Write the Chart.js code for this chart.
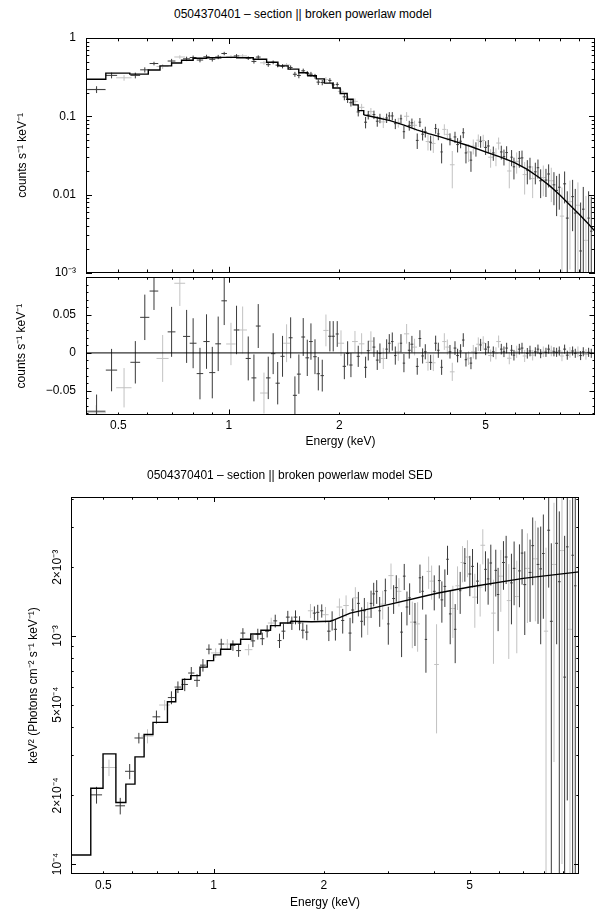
<!DOCTYPE html>
<html>
<head>
<meta charset="utf-8">
<script src="https://cdn.jsdelivr.net/npm/chart.js@4.4.1/dist/chart.umd.min.js"></script>
<style>
  body { margin: 0; background: #fff; }
  #wrap { position: relative; width: 601px; height: 913px; overflow: hidden; font-family: "Liberation Sans", Arial, sans-serif; }
  canvas { position: absolute; left: 0; }
  .ttl { position: absolute; font-size: 12px; line-height: 14px; white-space: nowrap; color: #000; }
</style>
</head>
<body>
<div id="wrap">
  <div class="ttl" style="left:174px;top:7px">0504370401 – section || broken powerlaw model</div>
  <canvas id="cTop" width="601" height="290" style="top:0"></canvas>
  <canvas id="cRes" width="601" height="200" style="top:260px"></canvas>
  <div class="ttl" style="left:147px;top:468px">0504370401 – section || broken powerlaw model SED</div>
  <canvas id="cSed" width="601" height="453" style="top:460px"></canvas>
</div>
<script>
const XMIN = 0.408, XMAX = 9.94;

// axis ticks
const xLabelTicks = [0.5, 1, 2, 5];
const xLabelText = ['0.5', '1', '2', '5'];
const xMajor = [1];
const xMinor = [0.5, 0.6, 0.7, 0.8, 0.9, 2, 3, 4, 5, 6, 7, 8, 9];

const topYTicks = [0.001, 0.01, 0.1, 1];
const topYText = ['10⁻³', '0.01', '0.1', '1'];
const topYMinor = [0.002, 0.003, 0.004, 0.005, 0.006, 0.007, 0.008, 0.009,
  0.02, 0.03, 0.04, 0.05, 0.06, 0.07, 0.08, 0.09, 0.2, 0.3, 0.4, 0.5, 0.6, 0.7, 0.8, 0.9];

const resYTicks = [-0.05, 0, 0.05];
const resYText = ['−0.05', '0', '0.05'];
const resYMajor = [-0.05, 0, 0.05, 0.1];
const resYMinor = [-0.08, -0.07, -0.06, -0.04, -0.03, -0.02, -0.01, 0.01, 0.02, 0.03, 0.04, 0.06, 0.07, 0.08, 0.09];

const sedYTicks = [1e-4, 2e-4, 5e-4, 1e-3, 2e-3];
const sedYText = ['10⁻⁴', '2×10⁻⁴', '5×10⁻⁴', '10⁻³', '2×10⁻³'];
const sedYMajor = [1e-4, 1e-3];
const sedYMinor = [2e-4, 3e-4, 4e-4, 5e-4, 6e-4, 7e-4, 8e-4, 9e-4, 2e-3, 3e-3, 4e-3];

// folded model (counts s-1 keV-1)
const cntStepE = [0.408, 0.462, 0.537, 0.603, 0.649, 0.698, 0.743, 0.799, 0.869, 0.95, 1.05, 1.165,
  1.267, 1.36, 1.45, 1.55, 1.64, 1.73, 1.82, 1.92, 2.01, 2.1, 2.18, 2.25, 2.33];
const cntStepV = [0.297, 0.356, 0.345, 0.39, 0.44, 0.48, 0.52, 0.55, 0.56, 0.565, 0.56, 0.535,
  0.49, 0.44, 0.40, 0.36, 0.33, 0.30, 0.265, 0.23, 0.195, 0.165, 0.14, 0.118, 0.104];
const cntE = [2.33, 2.5, 2.75, 3.0, 3.25, 3.5, 3.75, 4.0, 4.5, 5.0, 5.5, 6.0, 6.5, 7.0, 7.5, 8.0, 8.5, 9.0, 9.5, 9.94];
const cntV = [0.104, 0.097, 0.088, 0.077, 0.067, 0.060, 0.055, 0.050, 0.042, 0.035, 0.030, 0.0255,
  0.021, 0.0165, 0.0128, 0.0097, 0.0073, 0.0056, 0.0043, 0.0034];

// unfolded model (keV2 photons cm-2 s-1 keV-1)
const sedStepE = [0.408, 0.462, 0.499, 0.541, 0.576, 0.61, 0.646, 0.683, 0.748, 0.788, 0.822, 0.866,
  0.918, 0.961, 1.0, 1.045, 1.113, 1.185, 1.263, 1.346, 1.43, 1.52, 1.62];
const sedStepV = [1.095e-4, 2.15e-4, 3.04e-4, 1.86e-4, 2.24e-4, 2.95e-4, 3.70e-4, 4.18e-4, 5.15e-4,
  5.83e-4, 6.45e-4, 6.7e-4, 7.3e-4, 7.8e-4, 8.26e-4, 8.75e-4, 9.2e-4, 9.67e-4, 1.02e-3, 1.06e-3,
  1.11e-3, 1.14e-3, 1.16e-3];
const sedE = [1.62, 1.85, 2.085, 2.36, 3.04, 4.07, 5.0, 7.0, 9.94];
const sedV = [1.16e-3, 1.155e-3, 1.16e-3, 1.26e-3, 1.38e-3, 1.54e-3, 1.64e-3, 1.79e-3, 1.91e-3];

// first instrument (dark)
const darkE = [0.436, 0.479, 0.556, 0.590, 0.625, 0.698, 0.767, 0.799, 0.834, 0.869,
  0.901, 0.935, 0.971, 1.049, 1.129, 1.17, 1.202, 1.28, 1.32, 1.358,
  1.40, 1.473, 1.513, 1.551, 1.594, 1.635, 1.673, 1.716, 1.752, 1.796,
  1.884, 1.924, 1.973, 2.063, 2.106, 2.15, 2.251, 2.357, 2.397, 2.484,
  2.536, 2.579, 2.69, 2.735, 2.787, 2.84, 2.943, 2.998, 3.1, 3.152,
  3.259, 3.314, 3.371, 3.428, 3.545, 3.658, 3.72, 3.798, 4.002, 4.13,
  4.198, 4.278, 4.35, 4.424, 4.565, 4.71, 4.85, 5.005, 5.09, 5.252,
  5.522, 5.615, 5.71, 5.891, 5.978, 6.183, 6.288, 6.501, 6.611, 6.836,
  6.95, 7.068, 7.308, 7.431, 7.683, 7.813, 7.945, 8.215, 8.353, 8.637,
  8.783, 9.082, 9.235, 9.55, 9.71];
const darkHalf = [0.025, 0.017, 0.017, 0.017, 0.017, 0.017, 0.017, 0.017, 0.017, 0.017,
  0.017, 0.017, 0.017, 0.018, 0.018, 0.018, 0.018, 0.018, 0.018, 0.018,
  0.018, 0.018, 0.019, 0.019, 0.019, 0.019, 0.019, 0.019, 0.019, 0.019,
  0.019, 0.019, 0.019, 0.022, 0.022, 0.022, 0.022, 0.022, 0.022, 0.022,
  0.022, 0.022, 0.022, 0.022, 0.022, 0.022, 0.022, 0.022, 0.028, 0.028,
  0.028, 0.028, 0.028, 0.028, 0.028, 0.028, 0.028, 0.028, 0.035, 0.035,
  0.035, 0.035, 0.035, 0.035, 0.035, 0.035, 0.035, 0.045, 0.045, 0.045,
  0.045, 0.045, 0.045, 0.045, 0.045, 0.055, 0.055, 0.055, 0.055, 0.055,
  0.055, 0.065, 0.065, 0.065, 0.065, 0.065, 0.065, 0.075, 0.075, 0.075,
  0.075, 0.075, 0.075, 0.075, 0.075];
const darkRate = [0.220, 0.333, 0.333, 0.392, 0.472, 0.508, 0.542, 0.563, 0.523, 0.575,
  0.534, 0.572, 0.634, 0.590, 0.553, 0.502, 0.571, 0.457, 0.489, 0.450,
  0.436, 0.420, 0.344, 0.332, 0.381, 0.354, 0.345, 0.325, 0.273, 0.270,
  0.287, 0.252, 0.255, 0.177, 0.164, 0.149, 0.1135, 0.084, 0.104, 0.105,
  0.0865, 0.0945, 0.095, 0.101, 0.101, 0.0805, 0.0928, 0.0635, 0.0765, 0.0825,
  0.0492, 0.084, 0.059, 0.0635, 0.0465, 0.0698, 0.0595, 0.035, 0.0515, 0.0544,
  0.0435, 0.048, 0.0615, 0.034, 0.0275, 0.0385, 0.0475, 0.040, 0.0417, 0.034,
  0.035, 0.0305, 0.0344, 0.030, 0.0226, 0.029, 0.0294, 0.0205, 0.0225, 0.0195,
  0.022, 0.015, 0.0153, 0.0183, 0.0133, 0.0113, 0.0124, 0.0137, 0.005, 0.0094,
  0.0058, 0.0019, 0.0065, 0.005, 0.0034];
const darkErr = [0.022, 0.028, 0.028, 0.030, 0.025, 0.033, 0.035, 0.033, 0.034, 0.036,
  0.034, 0.036, 0.032, 0.032, 0.029, 0.031, 0.029, 0.028, 0.027, 0.028,
  0.027, 0.027, 0.025, 0.026, 0.025, 0.024, 0.024, 0.023, 0.022, 0.021,
  0.020, 0.020, 0.017, 0.017, 0.016, 0.016, 0.014, 0.014, 0.013, 0.013,
  0.013, 0.013, 0.013, 0.012, 0.012, 0.012, 0.012, 0.012, 0.011, 0.011,
  0.011, 0.011, 0.010, 0.010, 0.010, 0.010, 0.010, 0.010, 0.009, 0.009,
  0.009, 0.009, 0.009, 0.009, 0.008, 0.008, 0.008, 0.008, 0.008, 0.007,
  0.007, 0.007, 0.007, 0.007, 0.007, 0.007, 0.007, 0.007, 0.007, 0.006,
  0.006, 0.006, 0.006, 0.006, 0.006, 0.006, 0.006, 0.006, 0.006, 0.006,
  0.006, 0.006, 0.006, 0.006, 0.006];
const darkRes = [-0.077, -0.0227, -0.0124, 0.047, 0.0817, 0.0278, 0.0218, 0.0128, -0.0273, 0.015,
  -0.026, 0.012, 0.0688, 0.0303, -0.0073, -0.033, 0.0355, -0.033, -0.001, -0.040,
  -0.0045, 0.020, -0.056, -0.028, 0.021, -0.0065, 0.015, -0.005, -0.0275, -0.030,
  0.022, 0.022, 0.025, -0.0177, -0.0006, -0.016, -0.0045, -0.019, 0.003, 0.0077,
  -0.0095, -0.0005, 0.005, 0.0128, 0.015, -0.0035, 0.0128, -0.0135, 0.0035, 0.0115,
  -0.0178, 0.019, -0.004, 0.0015, -0.0125, 0.0128, 0.0035, -0.019, 0.0015, 0.0064,
  -0.0035, 0.0025, 0.017, -0.009, -0.0135, -0.0005, 0.0105, 0.005, 0.0077, 0.0015,
  0.005, 0.0015, 0.0064, 0.0035, -0.003, 0.005, 0.0064, -0.0005, 0.0025, 0.0015,
  0.005, -0.001, 0.0008, 0.005, 0.0015, 0.0008, 0.0025, 0.005, -0.003, 0.0025,
  -0.0005, -0.0035, 0.0015, 0.0008, -0.0005];
const darkSed = [0.81e-4, 2.01e-4, 1.80e-4, 2.55e-4, 3.57e-4, 4.42e-4, 5.37e-4, 5.97e-4, 6.13e-4, 6.88e-4,
  6.39e-4, 7.45e-4, 8.75e-4, 9.22e-4, 9.09e-4, 8.63e-4, 10.3e-4, 9.52e-4, 10.2e-4, 9.73e-4,
  10.5e-4, 11.65e-4, 9.55e-4, 10.5e-4, 12.1e-4, 11.4e-4, 12.1e-4, 11.4e-4, 10.6e-4, 10.4e-4,
  12.6e-4, 12.7e-4, 12.9e-4, 10.5e-4, 11.7e-4, 10.7e-4, 11.7e-4, 10.3e-4, 13.0e-4, 13.9e-4,
  11.6e-4, 12.9e-4, 13.9e-4, 15.3e-4, 15.7e-4, 12.9e-4, 15.8e-4, 11.3e-4, 14.6e-4, 16.3e-4,
  10.4e-4, 18.3e-4, 13.4e-4, 14.7e-4, 11.5e-4, 18.0e-4, 15.7e-4, 9.66e-4, 15.7e-4, 17.5e-4,
  14.4e-4, 16.5e-4, 21.7e-4, 12.5e-4, 10.7e-4, 15.8e-4, 20.8e-4, 18.7e-4, 20.2e-4, 17.4e-4,
  19.6e-4, 17.8e-4, 20.9e-4, 19.4e-4, 15.2e-4, 21.0e-4, 22.2e-4, 17.1e-4, 19.8e-4, 19.3e-4,
  23.1e-4, 16.8e-4, 19.0e-4, 24.9e-4, 20.6e-4, 19.7e-4, 23.0e-4, 29.1e-4, 11.6e-4, 25.5e-4,
  17.3e-4, 6.6e-4, 24.6e-4, 22.6e-4, 16.6e-4];
const darkSedErr = [0.08e-4, 0.17e-4, 0.15e-4, 0.195e-4, 0.19e-4, 0.29e-4, 0.35e-4, 0.35e-4, 0.40e-4, 0.43e-4,
  0.41e-4, 0.47e-4, 0.44e-4, 0.50e-4, 0.48e-4, 0.53e-4, 0.52e-4, 0.58e-4, 0.56e-4, 0.61e-4,
  0.65e-4, 0.75e-4, 0.69e-4, 0.82e-4, 0.79e-4, 0.77e-4, 0.85e-4, 0.81e-4, 0.85e-4, 0.81e-4,
  0.88e-4, 1.0e-4, 0.86e-4, 1.0e-4, 1.13e-4, 1.15e-4, 1.45e-4, 1.71e-4, 1.63e-4, 1.71e-4,
  1.75e-4, 1.78e-4, 1.9e-4, 1.81e-4, 1.87e-4, 1.93e-4, 2.05e-4, 2.14e-4, 2.1e-4, 2.17e-4,
  2.32e-4, 2.4e-4, 2.27e-4, 2.32e-4, 2.46e-4, 2.57e-4, 2.65e-4, 2.76e-4, 2.75e-4, 2.9e-4,
  2.96e-4, 3.09e-4, 3.17e-4, 3.3e-4, 3.1e-4, 3.3e-4, 3.5e-4, 3.75e-4, 3.87e-4, 3.57e-4,
  3.92e-4, 4.08e-4, 4.25e-4, 4.5e-4, 4.7e-4, 5.06e-4, 5.3e-4, 5.85e-4, 6.16e-4, 5.93e-4,
  6.3e-4, 6.7e-4, 7.47e-4, 8.2e-4, 9.3e-4, 10.5e-4, 11.1e-4, 12.8e-4, 13.9e-4, 16.3e-4,
  17.9e-4, 20.9e-4, 22.7e-4, 27e-4, 29e-4];

// second instrument (light)
const grayE = [0.435, 0.518, 0.660, 0.735, 1.013, 1.09, 1.246, 1.436, 1.838, 2.02,
  2.205, 2.299, 2.437, 2.634, 2.894, 3.049, 3.205, 3.486, 3.605, 3.863,
  3.936, 4.06, 4.498, 4.632, 4.78, 4.93, 5.164, 5.34, 5.43, 5.806,
  6.08, 6.393, 6.723, 7.187, 7.556, 8.079, 8.494, 8.931, 9.391];
const grayHalf = [0.027, 0.025, 0.025, 0.025, 0.03, 0.03, 0.03, 0.03, 0.03, 0.04,
  0.04, 0.04, 0.04, 0.04, 0.04, 0.05, 0.05, 0.05, 0.05, 0.05,
  0.05, 0.06, 0.06, 0.06, 0.06, 0.06, 0.08, 0.08, 0.08, 0.08,
  0.08, 0.08, 0.08, 0.11, 0.11, 0.11, 0.11, 0.11, 0.11];
const grayRate = [0.218, 0.310, 0.433, 0.572, 0.577, 0.590, 0.482, 0.453, 0.295, 0.208,
  0.155, 0.130, 0.1145, 0.0847, 0.0835, 0.100, 0.0767, 0.0475, 0.045, 0.068,
  0.0587, 0.024, 0.035, 0.0415, 0.0495, 0.049, 0.030, 0.031, 0.0455, 0.020,
  0.0265, 0.018, 0.016, 0.0165, 0.015, 0.0053, 0.0081, 0.0073, 0.0026];
const grayErr = [0.010, 0.026, 0.031, 0.030, 0.028, 0.031, 0.027, 0.025, 0.021, 0.017,
  0.014, 0.014, 0.013, 0.014, 0.012, 0.013, 0.011, 0.011, 0.011, 0.011,
  0.010, 0.012, 0.009, 0.009, 0.009, 0.009, 0.008, 0.008, 0.008, 0.008,
  0.008, 0.008, 0.007, 0.007, 0.007, 0.007, 0.007, 0.007, 0.007];
const grayRes = [-0.079, -0.046, -0.0073, 0.092, 0.0118, 0.0303, -0.053, 0.0128, 0.0297, 0.0128,
  0.015, 0.012, 0.0155, -0.0073, 0.0015, 0.0252, 0.0077, -0.0125, -0.013, 0.015,
  0.0077, -0.025, -0.007, 0.0015, 0.0115, 0.013, -0.0035, -0.0005, 0.015, -0.007,
  0.0015, -0.004, -0.003, 0.0015, 0.0025, -0.004, 0.0008, 0.0015, -0.002];
const graySed = [0.80e-4, 2.65e-4, 3.64e-4, 4.98e-4, 8.43e-4, 9.22e-4, 8.71e-4, 11.4e-4, 12.9e-4, 12.4e-4,
  13.4e-4, 13.6e-4, 14.7e-4, 12.1e-4, 13.8e-4, 18.4e-4, 15.7e-4, 11.5e-4, 11.3e-4, 19.2e-4,
  17.4e-4, 7.5e-4, 13.2e-4, 16.6e-4, 21.0e-4, 22.2e-4, 14.8e-4, 16.4e-4, 25.0e-4, 12.6e-4,
  18.3e-4, 14.3e-4, 14.9e-4, 19.8e-4, 21.8e-4, 10.5e-4, 20.6e-4, 23.7e-4, 10.7e-4];
const graySedErr = [0.04e-4, 0.22e-4, 0.26e-4, 0.26e-4, 0.41e-4, 0.48e-4, 0.49e-4, 0.63e-4, 0.92e-4, 1.01e-4,
  1.21e-4, 1.47e-4, 1.67e-4, 1.99e-4, 1.99e-4, 2.39e-4, 2.24e-4, 2.66e-4, 2.77e-4, 3.11e-4,
  2.97e-4, 3.76e-4, 3.4e-4, 3.6e-4, 3.8e-4, 4.1e-4, 3.94e-4, 4.23e-4, 4.39e-4, 5.05e-4,
  5.54e-4, 6.37e-4, 6.5e-4, 8.4e-4, 10.2e-4, 13.9e-4, 17.8e-4, 22.7e-4, 28.8e-4];

const DARK = '#3a3a3a', LIGHT = '#c2c2c2';
const FONT = '"Liberation Sans", Arial, sans-serif';
Chart.defaults.font.family = FONT;
Chart.defaults.font.size = 12;
Chart.defaults.color = '#000';
Chart.defaults.animation = false;

function pts(e, v) { return e.map((x, i) => ({x, y: v[i]})); }

// each data bin becomes one horizontal and one vertical segment, separated by gaps
function crosses(e, half, val, err, floor) {
  const h = [], v = [];
  for (let i = 0; i < e.length; i++) {
    h.push({x: e[i] - half[i], y: val[i]}, {x: e[i] + half[i], y: val[i]}, {x: e[i], y: null});
    v.push({x: e[i], y: Math.max(val[i] - err[i], floor)}, {x: e[i], y: val[i] + err[i]}, {x: e[i], y: null});
  }
  return [h, v];
}
function seg(data, color, width = 1) {
  return {data, borderColor: color, borderWidth: width, pointRadius: 0, showLine: true, spanGaps: false, fill: false};
}

const frame = {
  id: 'frame',
  afterDraw(chart, args, o) {
    const {ctx, chartArea: a} = chart;
    const xs = chart.scales.x, ys = chart.scales.y;
    ctx.save();
    ctx.strokeStyle = '#000';
    ctx.lineWidth = 1;
    ctx.beginPath();
    const mark = (vals, len, horiz) => vals.forEach(v => {
      if (horiz) {
        const p = Math.round(xs.getPixelForValue(v)) + 0.5;
        if (p < a.left || p > a.right) return;
        ctx.moveTo(p, a.bottom); ctx.lineTo(p, a.bottom - len);
        ctx.moveTo(p, a.top); ctx.lineTo(p, a.top + len);
      } else {
        const p = Math.round(ys.getPixelForValue(v)) + 0.5;
        if (p < a.top - 1 || p > a.bottom + 1) return;
        ctx.moveTo(a.left, p); ctx.lineTo(a.left + len, p);
        ctx.moveTo(a.right, p); ctx.lineTo(a.right - len, p);
      }
    });
    mark(o.xMajor, o.major, true);
    mark(o.xMinor, o.minor, true);
    mark(o.yMajor, o.major, false);
    mark(o.yMinor, o.minor, false);
    ctx.stroke();
    ctx.strokeRect(Math.round(a.left) + 0.5, Math.round(a.top) + 0.5,
      Math.round(a.right - a.left) - 1, Math.round(a.bottom - a.top) - 1);
    if (o.rot) {
      ctx.fillStyle = '#000';
      ctx.font = '12px ' + FONT;
      ctx.textAlign = 'center';
      ctx.textBaseline = 'middle';
      o.rot.values.forEach((v, i) => {
        ctx.save();
        ctx.translate(o.rot.x, ys.getPixelForValue(v));
        ctx.rotate(-Math.PI / 2);
        ctx.fillText(o.rot.text[i], 0, 0);
        ctx.restore();
      });
    }
    ctx.restore();
  }
};

function xAxis(show, height, pad, titlePad) {
  return {
    type: 'logarithmic', min: XMIN, max: XMAX, bounds: 'data',
    grid: {display: false, drawTicks: false}, border: {display: false},
    afterBuildTicks: s => { s.ticks = xLabelTicks.map(v => ({value: v})); },
    afterFit: s => { s.height = height; },
    ticks: {display: show, autoSkip: false, maxRotation: 0, padding: pad, callback: (v, i) => xLabelText[i]},
    title: {display: show, text: 'Energy (keV)', padding: {top: 0, bottom: titlePad}}
  };
}
function yAxis(type, min, max, ticks, text, width, pad, title, titlePad, showTicks = true) {
  return {
    type, min, max, bounds: 'data',
    grid: {display: false, drawTicks: false}, border: {display: false},
    afterBuildTicks: s => { s.ticks = ticks.map(v => ({value: v})); },
    afterFit: s => { s.width = width; },
    ticks: {display: showTicks, autoSkip: false, padding: pad, callback: (v, i) => text[i]},
    title: {display: true, text: title, padding: {top: titlePad, bottom: 0}}
  };
}
const basePlugins = {legend: {display: false}, tooltip: {enabled: false}};

// counts spectrum
const [dTopH, dTopV] = crosses(darkE, darkHalf, darkRate, darkErr, 1e-5);
const [gTopH, gTopV] = crosses(grayE, grayHalf, grayRate, grayErr, 1e-5);
new Chart(document.getElementById('cTop'), {
  type: 'scatter',
  data: {datasets: [
    {...seg(pts(cntStepE, cntStepV), '#000', 1.4), stepped: 'before'},
    seg(pts(cntE, cntV), '#000', 1.4),
    seg(dTopH, DARK), seg(dTopV, DARK),
    seg(gTopH, LIGHT), seg(gTopV, LIGHT)
  ]},
  options: {
    responsive: false, events: [],
    layout: {padding: {top: 38, right: 6, bottom: 17, left: 0}},
    scales: {
      x: xAxis(false, 0, 0, 0),
      y: yAxis('logarithmic', 1e-3, 1, topYTicks, topYText, 86, 10, 'counts s⁻¹ keV⁻¹', 15)
    },
    plugins: {...basePlugins, frame: {xMajor, xMinor, yMajor: topYTicks, yMinor: topYMinor, major: 6, minor: 3.3}}
  },
  plugins: [frame]
});

// residuals
const [dResH, dResV] = crosses(darkE, darkHalf, darkRes, darkErr, -1);
const [gResH, gResV] = crosses(grayE, grayHalf, grayRes, grayErr, -1);
new Chart(document.getElementById('cRes'), {
  type: 'scatter',
  data: {datasets: [
    seg([{x: XMIN, y: 0}, {x: XMAX, y: 0}], '#000', 1),
    seg(dResH, DARK), seg(dResV, DARK),
    seg(gResH, LIGHT), seg(gResV, LIGHT)
  ]},
  options: {
    responsive: false, events: [],
    layout: {padding: {top: 13, right: 6, bottom: 0, left: 0}},
    scales: {
      x: xAxis(true, 45, 3, 11),
      y: yAxis('linear', -0.082, 0.1, resYTicks, resYText, 86, 10, 'counts s⁻¹ keV⁻¹', 14)
    },
    plugins: {...basePlugins, frame: {xMajor, xMinor, yMajor: resYMajor, yMinor: resYMinor, major: 5.5, minor: 2.5}}
  },
  plugins: [frame]
});

// unfolded spectrum
const [dSedH, dSedV] = crosses(darkE, darkHalf, darkSed, darkSedErr, 1e-6);
const [gSedH, gSedV] = crosses(grayE, grayHalf, graySed, graySedErr, 1e-6);
new Chart(document.getElementById('cSed'), {
  type: 'scatter',
  data: {datasets: [
    {...seg(pts(sedStepE, sedStepV), '#000', 1.4), stepped: 'before'},
    seg(pts(sedE, sedV), '#000', 1.4),
    seg(dSedH, DARK), seg(dSedV, DARK),
    seg(gSedH, LIGHT), seg(gSedV, LIGHT)
  ]},
  options: {
    responsive: false, events: [],
    layout: {padding: {top: 37, right: 22, bottom: 0, left: 0}},
    scales: {
      x: xAxis(true, 39, 4, 3),
      y: yAxis('logarithmic', 0.904e-4, 4.07e-3, sedYTicks, sedYText, 71, 0, 'keV² (Photons cm⁻² s⁻¹ keV⁻¹)', 26, false)
    },
    plugins: {...basePlugins, frame: {xMajor, xMinor, yMajor: sedYMajor, yMinor: sedYMinor, major: 5, minor: 2.7,
      rot: {x: 58, values: sedYTicks, text: sedYText}}}
  },
  plugins: [frame]
});
</script>
</body>
</html>
